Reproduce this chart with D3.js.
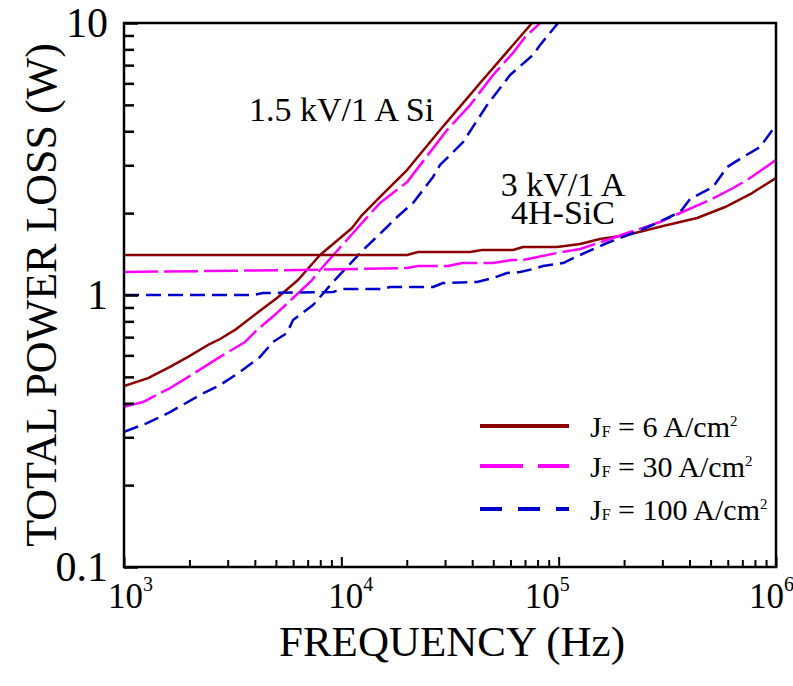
<!DOCTYPE html>
<html>
<head>
<meta charset="utf-8">
<script src="https://cdn.jsdelivr.net/npm/d3@7/dist/d3.min.js"></script>
<style>
  html, body { margin: 0; padding: 0; background: #fff; }
  svg { display: block; }
  text { font-family: "Liberation Serif", "Times New Roman", serif; fill: #000; }
</style>
</head>
<body>
<svg id="chart" width="793" height="686"></svg>
<script>
// ---------- DATA ----------
const xTickExponents = [3, 4, 5, 6];
const yTickLabels = ["0.1", "1", "10"];
const yTickValues = [0.1, 1, 10];

// Si diodes (1.5 kV / 1 A)
const si6F   = [1000,1290,1628,1970,2436,2766,3242,4093,5058,6318,7980,11200,12450,15070,20060,28460,39110,43480,61660,75430];
const si6P   = [0.463,0.495,0.544,0.592,0.655,0.689,0.744,0.859,0.975,1.135,1.403,1.763,1.968,2.293,2.88,4.04,5.44,6.02,8.30,10];
const si30F  = [1000,1223,1628,1970,2766,3605,4093,5058,5993,7332,7980,11320,15070,20060,27570,30650,39110,49900,61660,70030,82130];
const si30P  = [0.388,0.404,0.455,0.499,0.592,0.672,0.744,0.859,0.975,1.135,1.236,1.69,2.18,2.60,3.62,4.04,4.99,6.44,7.76,8.88,10];
const si100F = [1000,1276,1628,2238,2766,3418,4226,4850,5625,5993,7410,9160,12580,16230,18050,21380,26420,28460,36310,46830,59760,76250,82130,99350];
const si100P = [0.314,0.338,0.371,0.429,0.467,0.521,0.592,0.672,0.725,0.809,0.919,1.116,1.463,1.778,1.935,2.18,2.716,3.006,3.65,4.99,6.44,7.63,8.30,10];

// 4H-SiC diodes (3 kV / 1 A)
const sic6F   = [1000,20060,22540,39110,44400,61660,68580,98310,125500,155000,206400,302200,433500,583200,776200,1000000];
const sic6P   = [1.403,1.403,1.439,1.439,1.463,1.463,1.501,1.501,1.539,1.607,1.662,1.793,1.919,2.106,2.371,2.693];
const sic30F  = [1000,6455,20060,22540,30970,35930,49900,61040,68580,98310,125500,166900,213100,292800,362100,497400,634600,736300,1000000];
const sic30P  = [1.215,1.236,1.257,1.278,1.278,1.311,1.311,1.345,1.345,1.427,1.476,1.593,1.704,1.855,2.002,2.235,2.474,2.648,3.135];
const sic100F = [1000,3924,4363,9160,10180,15560,16750,26420,29380,42120,49900,57890,66440,76250,84770,104800,125500,166900,220000,263400,362100,402400,513500,595700,705700,845200,1000000];
const sic100P = [1.0,1.0,1.017,1.026,1.052,1.052,1.070,1.070,1.107,1.116,1.155,1.205,1.215,1.246,1.278,1.311,1.403,1.553,1.690,1.793,2.019,2.254,2.495,2.955,3.217,3.50,4.217];

const legendLabels = ["6", "30", "100"];

// ---------- LAYOUT ----------
const svg = d3.select("#chart");
const L = 124, R = 776, T = 23, B = 567;
const x = d3.scaleLog().domain([1e3, 1e6]).range([L, R]);
const y = d3.scaleLog().domain([0.1, 10]).range([B, T]);

const styles = [
  { color: "#8b0000", dash: null,   lw: 2.5 },
  { color: "#ff00ff", dash: "34,6", lw: 2.5 },
  { color: "#0000cc", dash: "15,7", lw: 2.5 }
];

svg.append("defs").append("clipPath").attr("id", "clip")
  .append("rect").attr("x", L).attr("y", T).attr("width", R - L).attr("height", B - T);

const line = d3.line().x(d => x(d[0])).y(d => y(d[1]));
const series = [
  [si6F, si6P, 0], [si30F, si30P, 1], [si100F, si100P, 2],
  [sic6F, sic6P, 0], [sic30F, sic30P, 1], [sic100F, sic100P, 2]
];
const g = svg.append("g").attr("clip-path", "url(#clip)");
series.forEach(([fs, ps, si]) => {
  const pts = fs.map((f, i) => [f, ps[i]]);
  const s = styles[si];
  g.append("path").datum(pts).attr("d", line)
    .attr("fill", "none").attr("stroke", s.color).attr("stroke-width", s.lw)
    .attr("stroke-dasharray", s.dash).attr("stroke-linejoin", "round");
});

// ---------- AXES ----------
svg.append("rect").attr("x", L).attr("y", T).attr("width", R - L).attr("height", B - T)
  .attr("fill", "none").attr("stroke", "#000").attr("stroke-width", 2.5);

// bottom axis (ticks inside)
const xMinor = [];
for (let e = 3; e < 6; e++) for (let m = 2; m <= 9; m++) xMinor.push(m * Math.pow(10, e));
const xAxisMinor = d3.axisBottom(x).tickValues(xMinor).tickSize(-7).tickFormat("");
const xAxisMajor = d3.axisBottom(x).tickValues(xTickExponents.map(e => Math.pow(10, e))).tickSize(-10).tickFormat("");
[xAxisMinor, xAxisMajor].forEach(ax => {
  const a = svg.append("g").attr("transform", `translate(0,${B})`).call(ax);
  a.select(".domain").remove();
  a.selectAll("line").attr("stroke", "#000").attr("stroke-width", 2);
});
// horizontal offset of each "10^n" label's left edge relative to its tick
const xLabelShift = [-16, -13, -34, -27];
xTickExponents.forEach((e, i) => {
  const t = svg.append("text").attr("x", x(Math.pow(10, e)) + xLabelShift[i]).attr("y", 608)
    .attr("text-anchor", "start").style("font-size", "35px");
  t.append("tspan").text("10");
  t.append("tspan").attr("dy", -17).style("font-size", "20px").text(e);
});

// left axis (ticks inside)
const yMinor = [];
for (let e = -1; e < 1; e++) for (let m = 2; m <= 9; m++) yMinor.push(m * Math.pow(10, e));
const yAxisMinor = d3.axisLeft(y).tickValues(yMinor).tickSize(-10).tickFormat("");
const yAxisMajor = d3.axisLeft(y).tickValues(yTickValues).tickSize(-14).tickFormat("");
[yAxisMinor, yAxisMajor].forEach(ax => {
  const a = svg.append("g").attr("transform", `translate(${L},0)`).call(ax);
  a.select(".domain").remove();
  a.selectAll("line").attr("stroke", "#000").attr("stroke-width", 2.5);
});
yTickValues.forEach((v, i) => {
  svg.append("text").attr("x", 108).attr("y", y(v) + 14)
    .attr("text-anchor", "end").style("font-size", "42px").text(yTickLabels[i]);
});

// axis titles
svg.append("text").attr("x", 452).attr("y", 656).attr("text-anchor", "middle")
  .style("font-size", "43px").text("FREQUENCY (Hz)");
svg.append("text").attr("transform", `translate(56,295) rotate(-90)`).attr("text-anchor", "middle")
  .style("font-size", "44px").text("TOTAL POWER LOSS (W)");

// annotations
svg.append("text").attr("x", 249).attr("y", 121).style("font-size", "34px").text("1.5 kV/1 A Si");
svg.append("text").attr("x", 563).attr("y", 196).attr("text-anchor", "middle").style("font-size", "34px").text("3 kV/1 A");
svg.append("text").attr("x", 563).attr("y", 224).attr("text-anchor", "middle").style("font-size", "34px").text("4H-SiC");

// legend
const legY = [426, 466, 509];
legendLabels.forEach((lab, i) => {
  const s = styles[i];
  svg.append("line").attr("x1", 480).attr("x2", 569).attr("y1", legY[i]).attr("y2", legY[i])
    .attr("stroke", s.color).attr("stroke-width", 4)
    .attr("stroke-dasharray", i === 1 ? "43,15" : (i === 2 ? "22,16" : null));
  const t = svg.append("text").attr("x", 590).attr("y", legY[i] + 11).style("font-size", "30px");
  t.append("tspan").text("J");
  t.append("tspan").style("font-size", "16px").text("F");
  t.append("tspan").text(" = " + lab + " A/cm");
  t.append("tspan").attr("dx", 0).attr("dy", -11).style("font-size", "15px").text("2");
});
</script>
</body>
</html>
